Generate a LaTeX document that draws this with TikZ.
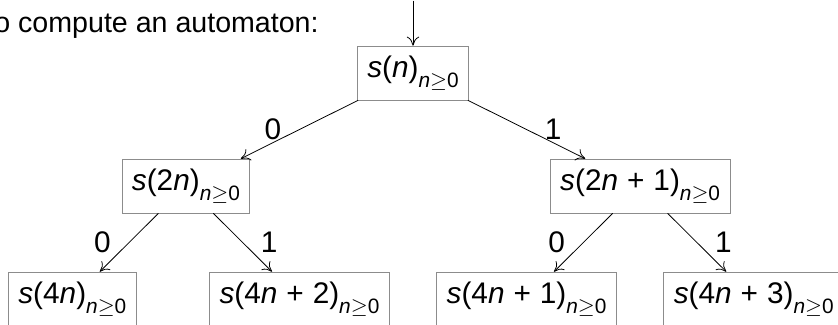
\documentclass[tikz,border=0pt]{standalone}
\usepackage{fontspec}
\setmainfont{Liberation Sans}
\usepackage{xcolor}
\definecolor{cBox}{HTML}{8C8C8C}
\usepackage{tikz}
\usetikzlibrary{positioning,arrows.meta}
% s(...)_{n>=0} in sans italic, like the slide
\newcommand{\nidx}{\raisebox{-0.6ex}{\fontsize{10.5}{12}\selectfont\textit{n}$\geq$0}}
\newcommand{\seqat}[1]{\textit{s}(#1)\nidx}
\newcommand{\plus}{\hspace{0.3em}+\hspace{0.3em}}
\tikzset{
  node-seq/.style={draw=cBox,inner sep=5pt,minimum height=9.4mm,
    font=\fontsize{15}{18}\selectfont},
  arrow/.style={-{To[length=1.6mm,width=2.2mm]},draw=black},
  edge-lbl-l/.style={left=2mm,font=\fontsize{15}{18}\selectfont},
  edge-lbl-r/.style={right=2mm,font=\fontsize{15}{18}\selectfont},
}

\begin{document}
\begin{tikzpicture}[node distance=2cm and 4.02cm,on grid]
  \useasboundingbox (-7.310,-4.460) rectangle (7.522,1.292);
  \clip (-7.310,-4.460) rectangle (7.522,1.292);
  \node[anchor=base west,inner sep=0pt,font=\fontsize{14.4}{17}\selectfont]
    (intro) at (-7.67,0.72) {To compute an automaton:};
  \node[node-seq] (root) at (0,0) {\seqat{\textit{n}}};
  \node[node-seq,below left=of root] (c0) {\seqat{2\textit{n}}};
  \node[node-seq,below right=of root] (c1) {\seqat{2\textit{n}\plus1}};
  \node[node-seq,below left=2cm and 2.01cm of c0] (c00) {\seqat{4\textit{n}}};
  \node[node-seq,below right=2cm and 2.01cm of c0] (c01) {\seqat{4\textit{n}\plus2}};
  \node[node-seq,below left=2cm and 2.01cm of c1] (c10) {\seqat{4\textit{n}\plus1}};
  \node[node-seq,below right=2cm and 2.01cm of c1] (c11) {\seqat{4\textit{n}\plus3}};
  \coordinate[above=1.28cm of root] (start);
  \draw[arrow] (start) -- (root);
  \draw[arrow] (root) -- node[edge-lbl-l] {0} (c0);
  \draw[arrow] (root) -- node[edge-lbl-r] {1} (c1);
  \draw[arrow] (c0) -- node[edge-lbl-l] {0} (c00);
  \draw[arrow] (c0) -- node[edge-lbl-r] {1} (c01);
  \draw[arrow] (c1) -- node[edge-lbl-l] {0} (c10);
  \draw[arrow] (c1) -- node[edge-lbl-r] {1} (c11);
\end{tikzpicture}
\end{document}
